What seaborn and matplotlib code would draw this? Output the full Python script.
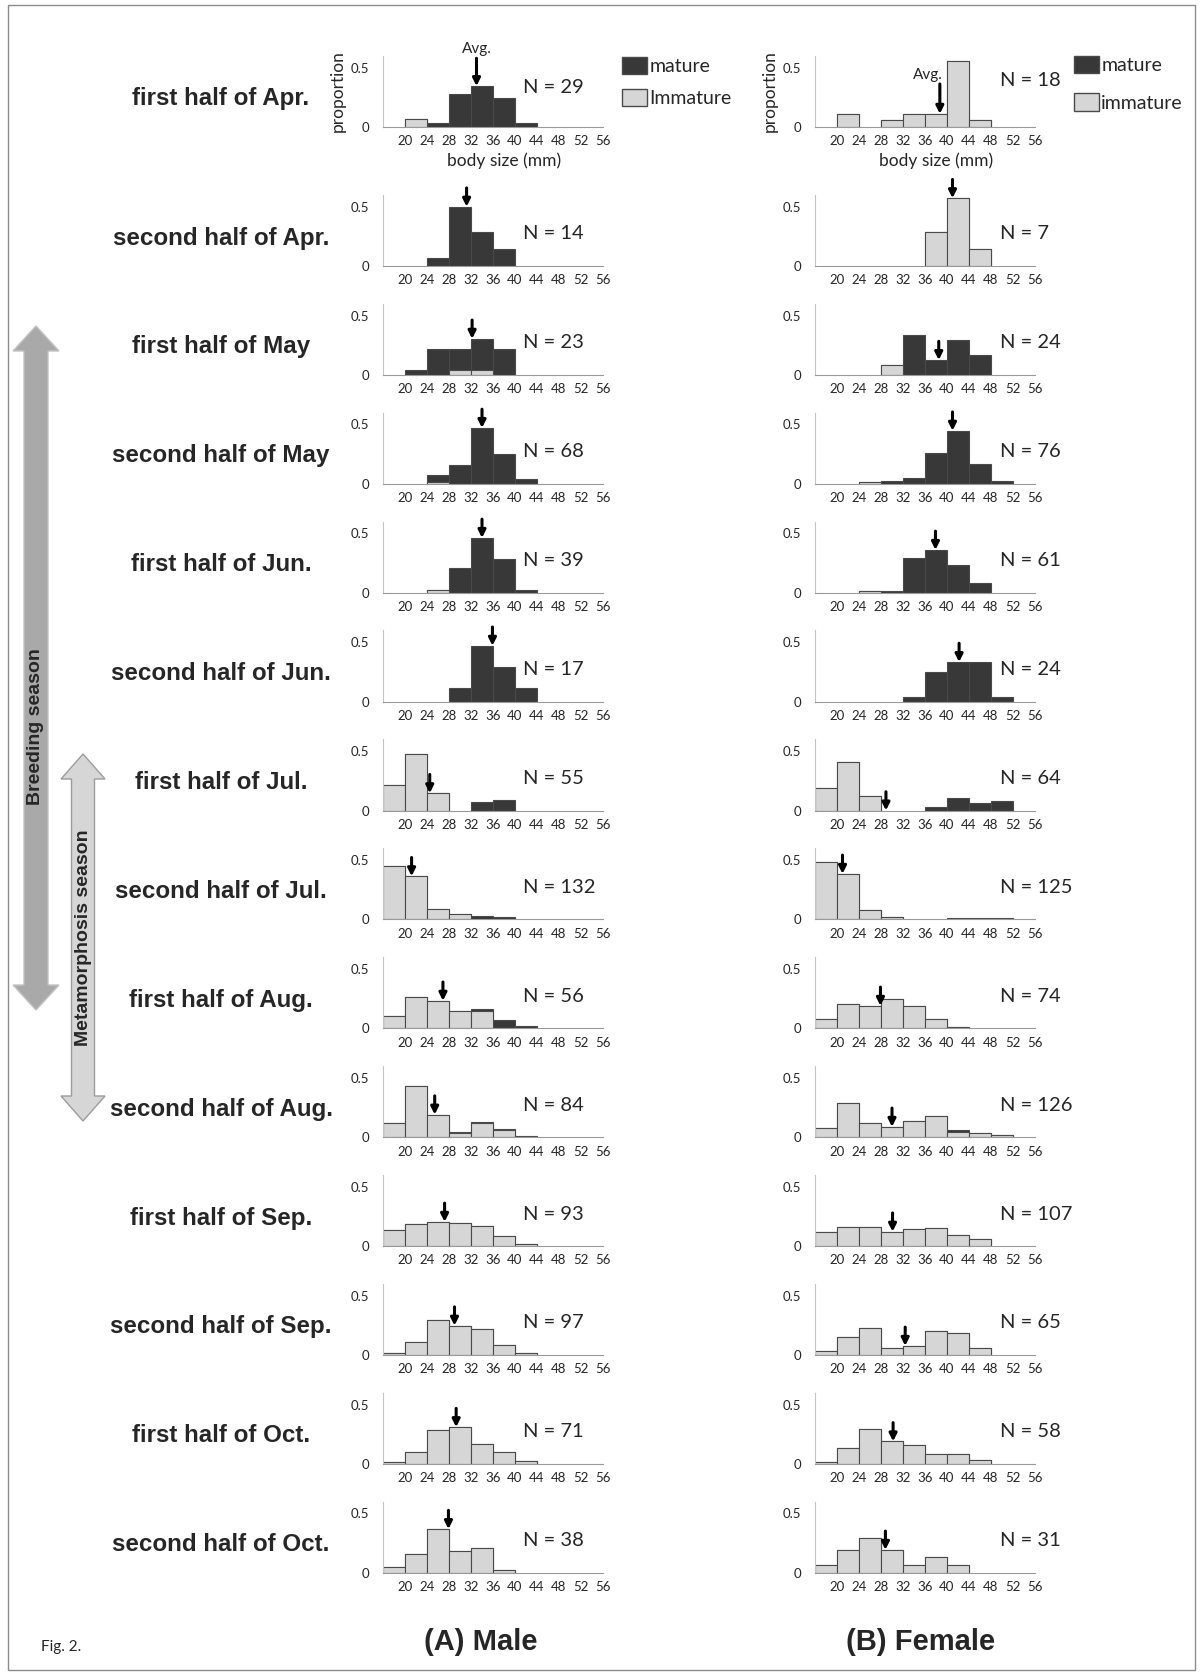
import numpy as np
import pandas as pd
import seaborn as sns
import matplotlib.pyplot as plt
from matplotlib.patches import Patch, Polygon, Rectangle

periods = ['first half of Apr.', 'second half of Apr.', 'first half of May', 'second half of May',
           'first half of Jun.', 'second half of Jun.', 'first half of Jul.', 'second half of Jul.',
           'first half of Aug.', 'second half of Aug.', 'first half of Sep.', 'second half of Sep.',
           'first half of Oct.', 'second half of Oct.']
size_bins = ['<20', '20-24', '24-28', '28-32', '32-36', '36-40', '40-44', '44-48', '48-52', '52-56']
edge_labels = ['20', '24', '28', '32', '36', '40', '44', '48', '52', '56']

# counts per size bin, one row per half-month
male_immature = [
    [0, 2, 0, 0, 0, 0, 0, 0, 0, 0],
    [0, 0, 0, 0, 0, 0, 0, 0, 0, 0],
    [0, 0, 0, 1, 1, 0, 0, 0, 0, 0],
    [0, 0, 1, 0, 0, 0, 0, 0, 0, 0],
    [0, 0, 1, 0, 0, 0, 0, 0, 0, 0],
    [0, 0, 0, 0, 0, 0, 0, 0, 0, 0],
    [12, 26, 8, 0, 0, 0, 0, 0, 0, 0],
    [59, 48, 12, 6, 1, 0, 0, 0, 0, 0],
    [6, 15, 13, 8, 8, 0, 0, 0, 0, 0],
    [10, 36, 16, 3, 10, 5, 0, 0, 0, 0],
    [13, 17, 19, 18, 16, 8, 2, 0, 0, 0],
    [2, 11, 29, 24, 21, 8, 2, 0, 0, 0],
    [1, 7, 20, 22, 12, 7, 2, 0, 0, 0],
    [2, 6, 14, 7, 8, 1, 0, 0, 0, 0],
]
male_mature = [
    [0, 0, 1, 8, 10, 7, 1, 0, 0, 0],
    [0, 0, 1, 7, 4, 2, 0, 0, 0, 0],
    [0, 1, 5, 4, 6, 5, 0, 0, 0, 0],
    [0, 0, 4, 11, 32, 17, 3, 0, 0, 0],
    [0, 0, 0, 8, 18, 11, 1, 0, 0, 0],
    [0, 0, 0, 2, 8, 5, 2, 0, 0, 0],
    [0, 0, 0, 0, 4, 5, 0, 0, 0, 0],
    [0, 0, 0, 0, 3, 3, 0, 0, 0, 0],
    [0, 0, 0, 0, 1, 4, 1, 0, 0, 0],
    [0, 0, 0, 1, 1, 1, 1, 0, 0, 0],
    [0, 0, 0, 0, 0, 0, 0, 0, 0, 0],
    [0, 0, 0, 0, 0, 0, 0, 0, 0, 0],
    [0, 0, 0, 0, 0, 0, 0, 0, 0, 0],
    [0, 0, 0, 0, 0, 0, 0, 0, 0, 0],
]
male_n = [29, 14, 23, 68, 39, 17, 55, 132, 56, 84, 93, 97, 71, 38]
male_avg = [33.0, 31.2, 32.2, 34.0, 34.0, 35.9, 24.5, 21.2, 26.9, 25.4, 27.2, 29.0, 29.3, 27.9]

female_immature = [
    [0, 2, 0, 1, 2, 2, 10, 1, 0, 0],
    [0, 0, 0, 0, 0, 2, 4, 1, 0, 0],
    [0, 0, 0, 2, 0, 0, 0, 0, 0, 0],
    [0, 0, 1, 0, 0, 0, 0, 0, 0, 0],
    [0, 0, 1, 0, 0, 0, 0, 0, 0, 0],
    [0, 0, 0, 0, 0, 0, 0, 0, 0, 0],
    [12, 26, 8, 0, 0, 0, 0, 0, 0, 0],
    [60, 48, 10, 3, 0, 0, 0, 0, 0, 0],
    [6, 15, 14, 18, 14, 6, 1, 0, 0, 0],
    [10, 36, 15, 11, 17, 23, 6, 4, 2, 0],
    [13, 17, 17, 13, 15, 16, 10, 6, 0, 0],
    [2, 10, 15, 4, 5, 13, 12, 4, 0, 0],
    [1, 8, 17, 11, 9, 5, 5, 2, 0, 0],
    [2, 6, 9, 6, 2, 4, 2, 0, 0, 0],
]
female_mature = [
    [0, 0, 0, 0, 0, 0, 0, 0, 0, 0],
    [0, 0, 0, 0, 0, 0, 0, 0, 0, 0],
    [0, 0, 0, 0, 8, 3, 7, 4, 0, 0],
    [0, 0, 0, 2, 4, 20, 34, 13, 2, 0],
    [0, 0, 0, 1, 18, 22, 14, 5, 0, 0],
    [0, 0, 0, 0, 1, 6, 8, 8, 1, 0],
    [0, 0, 0, 0, 0, 2, 7, 4, 5, 0],
    [0, 0, 0, 0, 0, 0, 2, 1, 1, 0],
    [0, 0, 0, 0, 0, 0, 0, 0, 0, 0],
    [0, 0, 0, 0, 0, 0, 2, 0, 0, 0],
    [0, 0, 0, 0, 0, 0, 0, 0, 0, 0],
    [0, 0, 0, 0, 0, 0, 0, 0, 0, 0],
    [0, 0, 0, 0, 0, 0, 0, 0, 0, 0],
    [0, 0, 0, 0, 0, 0, 0, 0, 0, 0],
]
female_n = [18, 7, 24, 76, 61, 24, 64, 125, 74, 126, 107, 65, 58, 31]
female_avg = [38.7, 41.0, 38.5, 41.0, 37.9, 42.2, 28.9, 21.0, 27.9, 30.0, 30.1, 32.4, 30.2, 28.8]

sns.set_style('white')
plt.rcParams['font.family'] = ['Lato', 'DejaVu Sans']
BOLD = ['Liberation Sans', 'DejaVu Sans']

W, H = 1200, 1677
fig = plt.figure(figsize=(W / 100, H / 100), dpi=100)

DARK = '#383838'
LIGHT = '#d6d6d6'
EDGE = '#4a4a4a'


def fy(y):
    return 1 - y / H


def baseline(row):
    return 127 if row == 0 else 266 + (row - 1) * 108.9


def draw_panel(ax, immature, mature, n, avg, arrow_len=13.5):
    imm = np.array(immature) / n
    tot = (np.array(immature) + np.array(mature)) / n
    df = pd.DataFrame({'bin': size_bins, 'total': tot, 'immature': imm})
    d_tot = df[df['total'] > 0]
    d_imm = df[df['immature'] > 0]
    # dark = whole bar, light immature part drawn over its lower section
    sns.barplot(data=d_tot, x='bin', y='total', order=size_bins, color=DARK, saturation=1,
                width=1, edgecolor=EDGE, linewidth=0.8, errorbar=None, ax=ax)
    if len(d_imm):
        sns.barplot(data=d_imm, x='bin', y='immature', order=size_bins, color=LIGHT, saturation=1,
                    width=1, edgecolor=EDGE, linewidth=0.8, errorbar=None, ax=ax)
    ax.set_xlim(-0.5, 9.5)
    ax.set_ylim(0, 0.6)
    ax.set_yticks([0, 0.5], ['0', '0.5'])
    ax.set_xticks(np.arange(10) + 0.5, edge_labels)
    ax.tick_params(axis='y', length=0, labelsize=9.5, pad=10)
    ax.tick_params(axis='x', length=0, labelsize=9.5, pad=6)
    ax.set_xlabel('')
    ax.set_ylabel('')
    sns.despine(ax=ax)
    ax.spines['left'].set_color('#c4c4c4')
    ax.spines['bottom'].set_color('#9a9a9a')
    ax.set_facecolor('none')

    # average arrow
    pos = (avg - 16) / 4 - 0.5
    k = int(np.floor(pos + 0.5))
    tip = tot[k]
    ax.annotate('', xy=(pos, tip), xytext=(0, arrow_len), textcoords='offset points',
                arrowprops=dict(arrowstyle='-|>', color='black', lw=2.2, mutation_scale=11,
                                shrinkA=0, shrinkB=0))
    return pos, tip


columns = [
    ('male', 383, male_immature, male_mature, male_n, male_avg, 0.636),
    ('female', 815, female_immature, female_mature, female_n, female_avg, 0.84),
]

for sex, left, imm_rows, mat_rows, ns, avgs, nx in columns:
    for r in range(len(periods)):
        b = baseline(r)
        ax = fig.add_axes([left / W, fy(b), 220 / W, 71.2 / H])
        alen = 13.5
        if r == 0:
            alen = 20 if sex == 'male' else 21.5
        pos, tip = draw_panel(ax, imm_rows[r], mat_rows[r], ns[r], avgs[r], alen)
        ny = 0.45
        if r == 0:
            ny = 0.55 if sex == 'male' else 0.66
        ax.text(nx, ny, f'N = {ns[r]}', transform=ax.transAxes, ha='left', va='center', fontsize=14.5)
        if r == 0:
            ax.set_ylabel('proportion', fontsize=12.5)
            ax.yaxis.set_label_coords(-0.17, 0.5)
            ax.set_xlabel('body size (mm)', fontsize=12.5)
            ax.xaxis.set_label_coords(0.55, -0.36)
            if sex == 'male':
                ax.annotate('Avg.', xy=(pos, tip), xytext=(0, alen + 2), textcoords='offset points',
                            ha='center', va='bottom', fontsize=11)
                lx, ly, lab, ls = 622, 57, 'Immature', 0.68
            else:
                ax.annotate('Avg.', xy=(pos, tip), xytext=(2, alen + 1.5), textcoords='offset points',
                            ha='right', va='bottom', fontsize=11)
                lx, ly, lab, ls = 1074, 56, 'immature', 0.98
            handles = [Patch(facecolor=DARK, edgecolor=EDGE, label='mature'),
                       Patch(facecolor=LIGHT, edgecolor=EDGE, label=lab)]
            ax.legend(handles=handles, loc='upper left', bbox_to_anchor=(lx / W, fy(ly)),
                      bbox_transform=fig.transFigure, frameon=False, fontsize=14,
                      handlelength=1.3, handleheight=1.0, handletextpad=0.1,
                      labelspacing=ls, borderaxespad=0, borderpad=0)
        if sex == 'male':
            fig.text(221 / W, fy(b - 28), periods[r], ha='center', va='center',
                     fontsize=17.4, fontweight='bold', family=BOLD)


def double_arrow(xc, top, bottom, shaft, head, head_len, face, edge):
    pts = [(xc, top), (xc + head / 2, top + head_len), (xc + shaft / 2, top + head_len),
           (xc + shaft / 2, bottom - head_len), (xc + head / 2, bottom - head_len), (xc, bottom),
           (xc - head / 2, bottom - head_len), (xc - shaft / 2, bottom - head_len),
           (xc - shaft / 2, top + head_len), (xc - head / 2, top + head_len)]
    verts = [(x / W, fy(y)) for x, y in pts]
    fig.add_artist(Polygon(verts, closed=True, transform=fig.transFigure,
                           facecolor=face, edgecolor=edge, lw=1))


double_arrow(36, 326, 1010, 24, 46, 25, '#a9a9a9', '#c2c2c2')
double_arrow(83, 754, 1121, 23, 44, 25, '#d6d6d6', '#9c9c9c')
fig.text(36 / W, fy(727), 'Breeding season', rotation=90, ha='center', va='center',
         fontsize=14, fontweight='bold', family=BOLD)
fig.text(83 / W, fy(938), 'Metamorphosis season', rotation=90, ha='center', va='center',
         fontsize=14, fontweight='bold', family=BOLD)

fig.text(481 / W, fy(1642), '(A) Male', ha='center', va='center', fontsize=21,
         fontweight='bold', family=BOLD)
fig.text(921 / W, fy(1642), '(B) Female', ha='center', va='center', fontsize=21,
         fontweight='bold', family=BOLD)
fig.text(41 / W, fy(1647), 'Fig. 2.', ha='left', va='center', fontsize=11)

fig.add_artist(Rectangle((8 / W, fy(1670)), 1187 / W, 1665 / H, transform=fig.transFigure,
                         fill=False, edgecolor='#8c8c8c', lw=1))

fig.savefig('out.png', dpi=100)
